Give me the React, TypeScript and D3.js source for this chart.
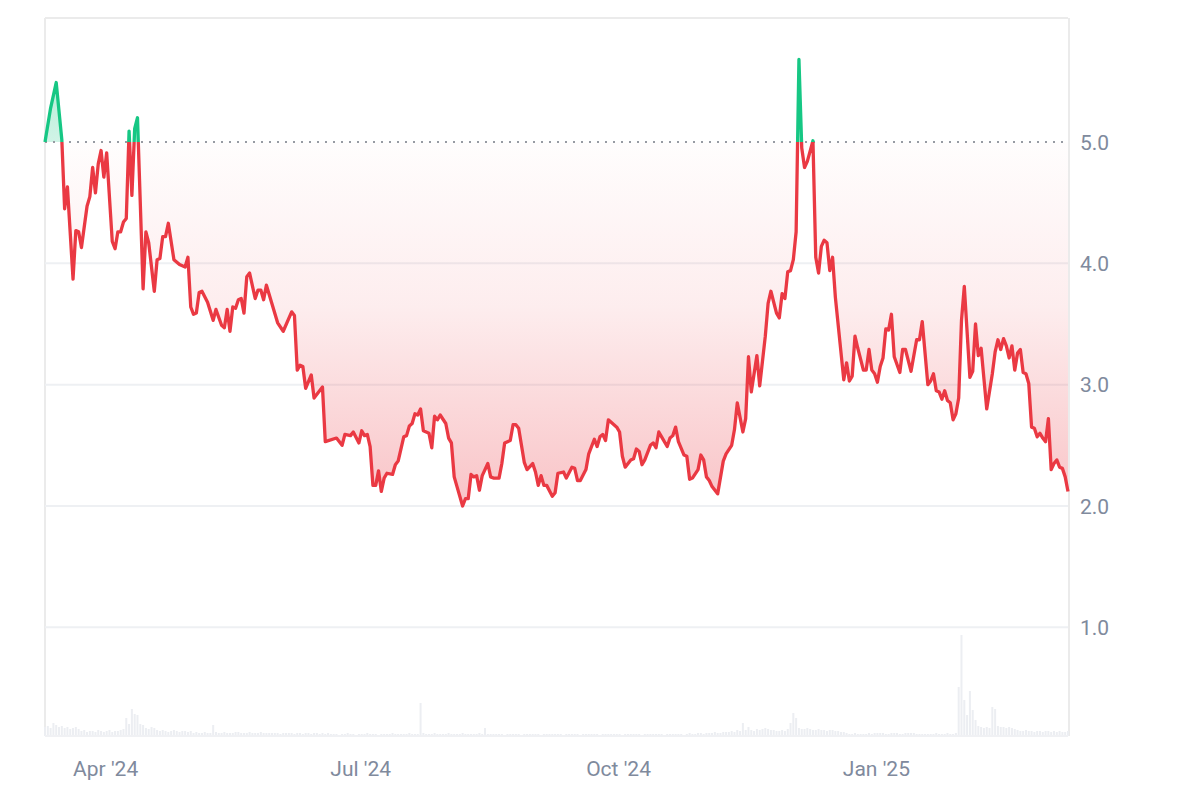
import React from "react";
import * as d3 from "d3";

const START = Date.UTC(2024, 2, 10);
const DAY = 86400000;
const SPAN_DAYS = 365;
const BASELINE = 5.0;

const dayOffsets = [
  0, 2, 4, 6, 7, 8, 10, 11, 12, 13, 15, 16, 17, 18, 19, 20, 21, 22, 24, 25, 26, 27, 28, 29, 30, 31, 32, 33, 35, 36,
  37, 39, 40, 41, 42, 43, 44, 46, 48, 50, 51, 52, 53, 54, 55, 56, 58, 60, 61, 63, 64, 65, 66, 67, 68, 69, 70, 71, 72, 73,
  75, 76, 77, 78, 79, 83, 85, 88, 89, 90, 91, 92, 93, 95, 96, 99, 100, 104, 106, 107, 109, 110, 112, 113, 114, 115, 116, 117, 118, 119,
  120, 121, 122, 124, 125, 126, 128, 129, 130, 131, 132, 133, 134, 135, 137, 138, 139, 140, 141, 143, 144, 145, 146, 147, 149, 150, 151, 152, 153, 154,
  155, 156, 158, 159, 160, 162, 163, 164, 166, 167, 168, 169, 171, 172, 174, 175, 176, 177, 178, 179, 181, 182, 183, 185, 186, 188, 189, 190, 191, 193,
  194, 196, 197, 198, 199, 200, 201, 203, 204, 205, 206, 207, 209, 210, 211, 212, 213, 214, 216, 217, 218, 219, 220, 222, 223, 224, 225, 226, 228, 229,
  230, 231, 233, 234, 235, 236, 237, 238, 240, 242, 243, 245, 246, 247, 249, 250, 251, 252, 254, 255, 257, 258, 259, 261, 262, 263, 264, 265, 266, 267,
  268, 269, 270, 271, 272, 274, 275, 276, 277, 278, 279, 280, 281, 282, 285, 286, 287, 288, 289, 290, 292, 293, 294, 295, 296, 297, 298, 299, 300, 301,
  302, 303, 305, 306, 307, 309, 311, 312, 313, 315, 316, 317, 318, 319, 320, 321, 322, 323, 324, 325, 326, 327, 328, 330, 331, 332, 333, 334, 335, 336,
  338, 339, 340, 341, 342, 343, 344, 345, 346, 347, 348, 349, 350, 351, 352, 353, 354, 355, 356, 357, 358, 359, 360, 361, 362, 363, 364, 365,
];

const prices = [
  5.0, 5.28, 5.49, 5.02, 4.45, 4.63, 3.87, 4.27, 4.26, 4.13, 4.47, 4.55, 4.79, 4.58, 4.82, 4.93, 4.71, 4.91, 4.18, 4.12, 4.26, 4.26, 4.34, 4.37, 5.09, 4.56, 5.11, 5.2, 3.79, 4.26,
  4.17, 3.77, 4.03, 4.04, 4.22, 4.22, 4.33, 4.03, 3.99, 3.97, 4.05, 3.64, 3.58, 3.59, 3.76, 3.77, 3.68, 3.53, 3.62, 3.49, 3.47, 3.62, 3.44, 3.64, 3.63, 3.7, 3.71, 3.59, 3.89, 3.92,
  3.71, 3.78, 3.78, 3.7, 3.82, 3.51, 3.44, 3.6, 3.57, 3.12, 3.16, 3.15, 2.97, 3.08, 2.89, 2.98, 2.53, 2.56, 2.5, 2.59, 2.58, 2.61, 2.52, 2.62, 2.58, 2.59, 2.49, 2.17, 2.17, 2.29,
  2.12, 2.23, 2.27, 2.26, 2.34, 2.37, 2.57, 2.58, 2.66, 2.68, 2.76, 2.75, 2.8, 2.62, 2.6, 2.48, 2.74, 2.71, 2.75, 2.68, 2.56, 2.52, 2.24, 2.16, 2.0, 2.06, 2.06, 2.26, 2.24, 2.25,
  2.13, 2.25, 2.35, 2.24, 2.23, 2.23, 2.35, 2.52, 2.54, 2.67, 2.67, 2.64, 2.36, 2.3, 2.35, 2.28, 2.17, 2.25, 2.17, 2.17, 2.08, 2.11, 2.27, 2.28, 2.23, 2.32, 2.31, 2.21, 2.21, 2.3,
  2.43, 2.55, 2.49, 2.57, 2.59, 2.54, 2.71, 2.67, 2.65, 2.61, 2.41, 2.32, 2.38, 2.39, 2.47, 2.45, 2.34, 2.38, 2.5, 2.52, 2.48, 2.61, 2.57, 2.49, 2.56, 2.58, 2.65, 2.53, 2.42, 2.41,
  2.22, 2.23, 2.3, 2.42, 2.38, 2.24, 2.21, 2.16, 2.1, 2.37, 2.43, 2.5, 2.63, 2.85, 2.61, 2.72, 3.23, 2.94, 3.24, 2.99, 3.4, 3.67, 3.77, 3.59, 3.55, 3.75, 3.71, 3.93, 3.94, 4.03,
  4.26, 5.68, 4.95, 4.79, 4.84, 5.01, 4.05, 3.92, 4.14, 4.19, 4.17, 3.94, 4.05, 3.72, 3.04, 3.18, 3.03, 3.07, 3.4, 3.3, 3.12, 3.12, 3.29, 3.12, 3.09, 3.02, 3.15, 3.22, 3.46, 3.45,
  3.58, 3.23, 3.1, 3.29, 3.29, 3.11, 3.37, 3.37, 3.52, 3.0, 3.03, 3.09, 2.95, 2.94, 2.88, 2.95, 2.87, 2.85, 2.71, 2.76, 2.89, 3.53, 3.81, 3.06, 3.11, 3.5, 3.24, 3.3, 3.05, 2.8,
  3.09, 3.27, 3.37, 3.29, 3.38, 3.32, 3.22, 3.32, 3.12, 3.26, 3.29, 3.1, 3.09, 3.01, 2.65, 2.64, 2.57, 2.6, 2.56, 2.53, 2.72, 2.3, 2.35, 2.38, 2.32, 2.31, 2.24, 2.12,
];

// daily volume (relative units), one value per day from START
const volumes = [
  9, 10, 8, 13, 11, 9, 10, 8, 9, 7, 8, 9, 7,
  5, 6, 4, 5, 5, 4, 6, 5, 4, 5, 6, 4, 5, 5, 6, 7,
  18, 12, 27, 22, 21, 12, 11, 8, 7, 9, 8, 6,
  5, 6, 5, 4, 5, 6, 5, 4, 5, 5, 4, 5,
  3, 4, 3, 3, 4, 3, 3,
  11,
  4, 3, 3, 4, 3, 3, 3, 4, 4, 3, 3, 3, 4, 3, 3, 3, 4, 3, 3, 3, 3, 3, 3, 2, 3, 3, 3, 3, 2, 3, 3, 2, 3, 3, 2, 3, 3, 2, 3, 2, 3, 2,
  2, 2, 1, 2, 2, 3, 2, 2, 1, 2, 2, 2, 3, 2, 2, 2, 1, 2, 2, 2, 2, 3, 2, 2, 2, 2, 2, 3, 2, 2, 2,
  33,
  3, 2, 2, 2, 3, 2, 2, 2, 2, 3, 2, 2, 2, 2, 3, 2, 2, 2, 2, 2, 3, 2,
  8,
  2, 2, 2, 2, 2, 2, 1, 2, 2, 2, 2, 2, 1, 2, 2, 2, 2, 2, 2, 1, 2, 2, 2, 2, 2, 2, 2, 1, 2, 2,
  2, 2, 2, 1, 2, 2, 2, 2, 2, 2, 1, 2, 2, 2, 2, 2, 2, 2, 1, 2, 2, 2, 2, 2, 2, 1, 2, 2, 2, 2,
  2, 2, 2, 1, 2, 2, 2, 2, 2, 2, 1, 2, 3, 2, 2, 3, 3, 2, 3, 3, 3, 4, 3, 3, 4, 4, 4,
  5, 4, 6, 5, 13, 6, 9, 6, 5, 7, 6, 7, 8, 7, 6, 6, 5, 5, 6, 5, 7,
  13, 23, 18,
  8, 7, 7, 8, 7, 6, 6, 7, 6, 6, 5, 6, 6, 5, 5, 4, 4,
  3, 2, 2, 3, 2, 2, 2, 2, 3, 2, 3, 3, 3, 3, 2, 2, 3, 3, 3, 2, 2, 3, 3, 3, 3, 2, 2, 2, 2, 2, 2, 2, 3, 2, 2, 2, 3, 2, 2, 3,
  49, 101, 36, 21, 45, 26, 16,
  10, 9, 8, 9, 8,
  29, 27,
  10, 9, 9, 8, 9, 8, 7,
  6, 5, 5, 6, 5, 5, 4, 5, 5, 4, 5, 5, 4, 5, 4, 5, 4, 4, 5,
];

const yTicks = [1, 2, 3, 4, 5];
const xTickDates = ["2024-04-01", "2024-07-01", "2024-10-01", "2025-01-01"];

const RED = "#ea3943";
const GREEN = "#16c784";
const LABEL = "#808a9d";

export default function App() {
  const W = 1196;
  const H = 796;
  const left = 45;
  const right = 1068;
  const top = 18;
  const bottom = 736;

  const x = d3
    .scaleUtc()
    .domain([new Date(START), new Date(START + SPAN_DAYS * DAY)])
    .range([left, right]);
  const y = d3.scaleLinear().domain([2, 5]).range([506, 142]);
  const vy = d3.scaleLinear().domain([0, 101]).range([bottom, 635]);

  const data = dayOffsets.map((d, i) => ({ date: new Date(START + d * DAY), v: prices[i] }));
  const line = d3
    .line<{ date: Date; v: number }>()
    .x((d) => x(d.date))
    .y((d) => y(d.v));
  const area = d3
    .area<{ date: Date; v: number }>()
    .x((d) => x(d.date))
    .y0(y(BASELINE))
    .y1((d) => y(d.v));

  const linePath = line(data) || "";
  const areaPath = area(data) || "";
  const by = y(BASELINE);
  const fmtX = d3.utcFormat("%b '%y");
  const fmtY = d3.format(".1f");

  return (
    <div style={{ position: "absolute", left: 0, top: 0, width: W, height: H, background: "#fff" }}>
      <svg width={W} height={H} style={{ display: "block" }}>
        <defs>
          <clipPath id="clipDown">
            <rect x={0} y={by} width={W} height={bottom - by} />
          </clipPath>
          <clipPath id="clipUp">
            <rect x={0} y={0} width={W} height={by} />
          </clipPath>
          <linearGradient id="redFill" gradientUnits="userSpaceOnUse" x1={0} x2={0} y1={by} y2={y(2)}>
            <stop offset="0%" stopColor={RED} stopOpacity={0.01} />
            <stop offset="45%" stopColor={RED} stopOpacity={0.09} />
            <stop offset="100%" stopColor={RED} stopOpacity={0.3} />
          </linearGradient>
          <linearGradient id="greenFill" gradientUnits="userSpaceOnUse" x1={0} x2={0} y1={y(5.7)} y2={by}>
            <stop offset="0%" stopColor={GREEN} stopOpacity={0.35} />
            <stop offset="100%" stopColor={GREEN} stopOpacity={0.2} />
          </linearGradient>
        </defs>

        {/* frame */}
        <line x1={left} x2={right} y1={top} y2={top} stroke="#ebebeb" strokeWidth={2} />
        <line x1={left} x2={left} y1={top} y2={bottom} stroke="#ebebeb" strokeWidth={2} />
        <line x1={right + 1} x2={right + 1} y1={top} y2={bottom} stroke="#ebebeb" strokeWidth={2} />

        {/* grid */}
        {yTicks
          .filter((t) => t !== BASELINE)
          .map((t) => (
            <line key={t} x1={left} x2={right} y1={y(t)} y2={y(t)} stroke="#eef0f3" strokeWidth={2} />
          ))}

        {/* volume bars */}
        {volumes.map((v, i) => {
          const cx = x(new Date(START + i * DAY));
          return (
            <rect
              key={i}
              x={cx - 1}
              y={vy(v)}
              width={2}
              height={bottom - vy(v)}
              fill="#eceef2"
            />
          );
        })}
        <line x1={left} x2={right} y1={bottom} y2={bottom} stroke="#f0f1f4" strokeWidth={2} />

        {/* areas */}
        <path d={areaPath} fill="url(#redFill)" clipPath="url(#clipDown)" />
        <path d={areaPath} fill="url(#greenFill)" clipPath="url(#clipUp)" />

        {/* baseline */}
        <line
          x1={left}
          x2={right}
          y1={by}
          y2={by}
          stroke="#979ba3"
          strokeWidth={2}
          strokeDasharray="2 6"
        />

        {/* lines */}
        <path d={linePath} fill="none" stroke={RED} strokeWidth={3.3} strokeLinejoin="round" clipPath="url(#clipDown)" />
        <path d={linePath} fill="none" stroke={GREEN} strokeWidth={3.3} strokeLinejoin="round" clipPath="url(#clipUp)" />

        {/* y labels */}
        {yTicks.map((t) => (
          <text
            key={t}
            x={1080}
            y={y(t) + 7.5}
            fontFamily="Roboto, sans-serif"
            fontSize={21}
            fill={LABEL}
          >
            {fmtY(t)}
          </text>
        ))}

        {/* x labels */}
        {xTickDates.map((s) => {
          const d = new Date(s + "T00:00:00Z");
          return (
            <text
              key={s}
              x={x(d) - 1}
              y={776}
              textAnchor="middle"
              fontFamily="Roboto, sans-serif"
              fontSize={21}
              fill={LABEL}
            >
              {fmtX(d)}
            </text>
          );
        })}
      </svg>
    </div>
  );
}
